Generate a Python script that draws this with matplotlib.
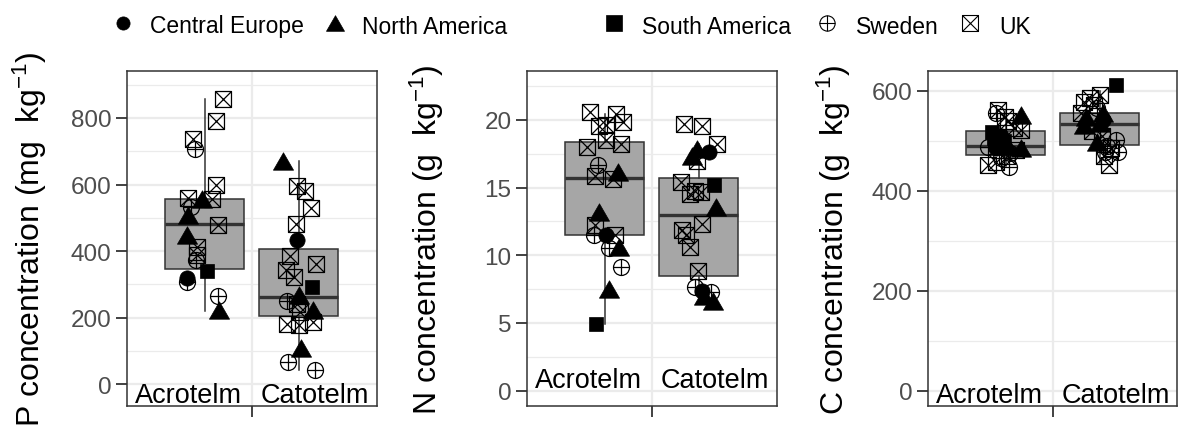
import numpy as np
import matplotlib.pyplot as plt
from matplotlib.path import Path
from matplotlib.lines import Line2D

plt.rcParams['font.family'] = ['Liberation Sans', 'DejaVu Sans']
plt.rcParams['mathtext.fontset'] = 'custom'
plt.rcParams['mathtext.rm'] = 'Liberation Sans'
plt.rcParams['mathtext.it'] = 'Liberation Sans:italic'
plt.rcParams['mathtext.default'] = 'regular'

# ------------------------------
# Data
# ------------------------------
layers = ["Acrotelm", "Catotelm"]
site_codes = ["CE", "NA", "SA", "SW", "UK"]
site_names = ["Central Europe", "North America", "South America", "Sweden", "UK"]

# P concentration (mg kg-1)
p_acro_val = [856, 791, 738, 706, 599, 559, 532, 555, 555, 507, 479, 449, 412, 387,
              372, 340, 319, 307, 265, 224]
p_acro_site = ["UK", "UK", "UK", "SW", "UK", "UK", "SW", "NA", "UK", "NA", "UK", "NA",
               "UK", "UK", "SW", "SA", "CE", "SW", "SW", "NA"]
p_acro_dx = [0.19, 0.12, -0.13, -0.11, 0.12, -0.18, -0.15, -0.03, 0.08, -0.18, 0.14,
             -0.19, -0.08, -0.08, -0.09, 0.02, -0.19, -0.19, 0.14, 0.15]

p_cato_val = [672, 597, 579, 529, 480, 432, 385, 360, 344, 322, 292, 269, 249, 241,
              223, 216, 181, 178, 186, 108, 68, 44]
p_cato_site = ["NA", "UK", "UK", "UK", "UK", "CE", "UK", "UK", "UK", "UK", "SA", "NA",
               "SW", "UK", "NA", "UK", "UK", "UK", "UK", "NA", "SW", "SW"]
p_cato_dx = [-0.17, -0.02, 0.07, 0.13, -0.03, -0.02, -0.09, 0.18, -0.14, -0.05, 0.14,
             0.0, -0.13, -0.02, 0.15, 0.01, -0.13, 0.0, 0.15, 0.02, -0.12, 0.17]

# N concentration (g kg-1)
n_acro_val = [20.58, 20.45, 19.54, 19.84, 19.6, 18.48, 17.99, 18.23, 16.68, 16.14,
              15.89, 15.65, 13.23, 12.25, 11.46, 11.51, 11.46, 10.52, 10.6, 9.12,
              7.52, 4.93]
n_acro_site = ["UK", "UK", "UK", "UK", "UK", "UK", "UK", "UK", "SW", "NA", "UK", "UK",
               "NA", "UK", "SW", "CE", "UK", "SW", "NA", "SW", "NA", "SA"]
n_acro_dx = [-0.16, 0.12, -0.06, 0.19, 0.01, 0.01, -0.19, 0.17, -0.07, 0.14, -0.10,
             0.09, -0.06, -0.10, -0.11, 0.01, 0.11, 0.05, 0.15, 0.17, 0.05, -0.09]

n_cato_val = [19.71, 19.54, 18.23, 17.86, 17.66, 17.3, 16.93, 15.40, 15.20, 14.54,
              14.66, 14.78, 13.55, 12.32, 11.88, 11.46, 10.64, 8.80, 7.64, 7.39,
              7.27, 6.65, 7.02]
n_cato_site = ["UK", "UK", "UK", "NA", "CE", "NA", "UK", "UK", "SA", "UK", "UK", "UK",
               "NA", "UK", "UK", "UK", "UK", "UK", "SW", "CE", "SW", "NA", "NA"]
n_cato_dx = [-0.16, 0.04, 0.20, -0.02, 0.11, -0.07, -0.02, -0.19, 0.16, -0.09, 0.03,
             -0.04, 0.19, 0.04, -0.18, -0.13, -0.09, -0.01, -0.04, 0.04, 0.13, 0.15,
             0.06]

# C concentration (g kg-1)
c_acro_val = [561, 555, 548, 551, 540, 525, 522, 518, 505, 498, 488, 485, 485, 482,
              490, 475, 470, 465, 458, 452, 447, 510, 500]
c_acro_site = ["UK", "SW", "UK", "NA", "UK", "UK", "UK", "SA", "SA", "NA", "SW", "CE",
               "NA", "UK", "NA", "SW", "UK", "SW", "UK", "UK", "SW", "CE", "SA"]
c_acro_dx = [-0.08, -0.10, -0.01, 0.16, 0.03, 0.09, 0.16, -0.14, -0.12, -0.07, -0.19,
             -0.10, 0.16, 0.11, 0.03, 0.05, 0.02, -0.05, -0.10, -0.19, 0.04, -0.05,
             -0.02]

c_cato_val = [611, 591, 585, 578, 572, 565, 555, 555, 548, 541, 535, 532, 520, 510,
              498, 502, 490, 478, 478, 470, 452, 485]
c_cato_site = ["SA", "UK", "UK", "UK", "UK", "SW", "UK", "NA", "NA", "CE", "NA", "NA",
               "UK", "UK", "NA", "SW", "SW", "SW", "SW", "UK", "UK", "UK"]
c_cato_dx = [0.18, 0.01, -0.10, -0.17, -0.06, -0.03, -0.20, 0.04, -0.14, 0.04, 0.01,
             -0.17, -0.08, 0.03, -0.03, 0.18, 0.08, 0.20, 0.06, 0.05, 0.10, 0.12]

# box summaries: lower whisker, q1, median, q3, upper whisker
p_box = [[219, 345, 480, 557, 856], [44, 206, 263, 407, 670]]
n_box = [[4.93, 11.46, 15.7, 18.4, 20.45], [6.65, 8.5, 12.99, 15.74, 18.2]]
c_box = [[450, 472, 490, 520, 562], [455, 492, 533, 556, 600]]

# ------------------------------
# Marker shapes
# ------------------------------
M, L, C = Path.MOVETO, Path.LINETO, Path.CLOSEPOLY
tri_path = Path([(0, 0.433), (-0.5, -0.433), (0.5, -0.433), (0, 0.433)],
                [M, L, L, C])
circle_plus = Path.make_compound_path(
    Path.unit_circle(),
    Path([(-1, 0), (1, 0)], [M, L]),
    Path([(0, -1), (0, 1)], [M, L]))
square_cross = Path([(-1, -1), (1, -1), (1, 1), (-1, 1), (-1, -1),
                     (-1, -1), (1, 1), (-1, 1), (1, -1)],
                    [M, L, L, L, C, M, L, M, L])

styles = {
    "CE": dict(marker="o", ms=11, mfc="black", mec="black", mew=0.5),
    "NA": dict(marker=tri_path, ms=14.5, mfc="black", mec="black", mew=0.5),
    "SA": dict(marker="s", ms=10, mfc="black", mec="black", mew=0.5),
    "SW": dict(marker=circle_plus, ms=11.5, mfc="none", mec="black", mew=0.9),
    "UK": dict(marker=square_cross, ms=11.5, mfc="none", mec="black", mew=0.9),
}

# ------------------------------
# Figure
# ------------------------------
fig = plt.figure(figsize=(11.81, 4.31), dpi=100)

panels = [
    dict(left=0.1075, box=p_box, groups=[(p_acro_val, p_acro_site, p_acro_dx),
                                        (p_cato_val, p_cato_site, p_cato_dx)],
         ylim=(-65, 942), major=np.arange(0, 801, 200), minor=np.arange(100, 901, 200),
         text_y=-52, label="P concentration (mg  kg$^{-1}$)", label_x=30),
    dict(left=0.446, box=n_box, groups=[(n_acro_val, n_acro_site, n_acro_dx),
                                       (n_cato_val, n_cato_site, n_cato_dx)],
         ylim=(-1.15, 23.65), major=np.arange(0, 21, 5), minor=np.arange(2.5, 23, 5),
         text_y=0.25, label="N concentration (g  kg$^{-1}$)", label_x=427),
    dict(left=0.7855, box=c_box, groups=[(c_acro_val, c_acro_site, c_acro_dx),
                                        (c_cato_val, c_cato_site, c_cato_dx)],
         ylim=(-31, 640), major=np.arange(0, 601, 200), minor=np.arange(100, 601, 200),
         text_y=-22, label="C concentration (g  kg$^{-1}$)", label_x=834),
]

dark = "#333333"
for pn in panels:
    ax = fig.add_axes([pn["left"], 0.0555, 0.2115, 0.7785])

    stats = []
    for lo, q1, med, q3, hi in pn["box"]:
        stats.append(dict(whislo=lo, q1=q1, med=med, q3=q3, whishi=hi, fliers=[]))
    ax.bxp(stats, positions=[1, 2], widths=0.84, showcaps=False, patch_artist=True,
           boxprops=dict(facecolor="#A6A6A6", edgecolor=dark, linewidth=1.1),
           whiskerprops=dict(color=dark, linewidth=1.1),
           medianprops=dict(color=dark, linewidth=2.4), zorder=2)

    for pos, (vals, sites, dx) in zip([1, 2], pn["groups"]):
        vals = np.asarray(vals)
        xs = pos + np.asarray(dx)
        sites = np.asarray(sites)
        for code in ["SW", "UK", "CE", "NA", "SA"]:
            sel = sites == code
            if sel.any():
                ax.plot(xs[sel], vals[sel], ls="none", zorder=3, **styles[code])

    for pos, name in zip([0.83, 2.17], layers):
        ax.text(pos, pn["text_y"], name, ha="center", va="baseline",
                fontsize=19.5, color="black", zorder=4)

    ax.set_xlim(0.17, 2.83)
    ax.set_ylim(*pn["ylim"])
    ax.set_xticks([1.5])
    ax.set_xticklabels([""])
    ax.set_yticks(pn["major"])
    ax.set_yticks(pn["minor"], minor=True)
    ax.tick_params(axis="both", which="major", direction="out", length=8, width=1.3,
                   color=dark, labelsize=17.5, labelcolor="#4D4D4D", pad=3)
    ax.tick_params(axis="y", which="minor", length=0)
    ax.grid(which="major", color="#EBEBEB", linewidth=1.6, zorder=0)
    ax.grid(which="minor", axis="y", color="#EBEBEB", linewidth=0.9, zorder=0)
    ax.set_axisbelow(True)
    for sp in ax.spines.values():
        sp.set_color(dark)
        sp.set_linewidth(1.1)

    fig.text(pn["label_x"] / 1181, 0.4443, pn["label"], rotation=90, ha="center",
             va="center", fontsize=23, color="black")

# Legend row across the top
leg_marker_x = [123, 335, 614, 827, 970]
leg_text_x = [150, 362, 642, 856, 999]
leg_sizes = {"CE": 9.5, "NA": 13, "SA": 11, "SW": 11, "UK": 11.5}
for code, name, mx, tx in zip(site_codes, site_names, leg_marker_x, leg_text_x):
    st = dict(styles[code])
    st["ms"] = leg_sizes[code]
    st["mew"] = 0.8 if st["mfc"] == "none" else 0.5
    fig.add_artist(Line2D([mx / 1181], [1 - 23.5 / 431], transform=fig.transFigure,
                          ls="none", **st))
    fig.text(tx / 1181, 1 - 33.5 / 431, name, ha="left", va="baseline",
             fontsize=16.5, color="black")

fig.savefig("out.png", dpi=100)
